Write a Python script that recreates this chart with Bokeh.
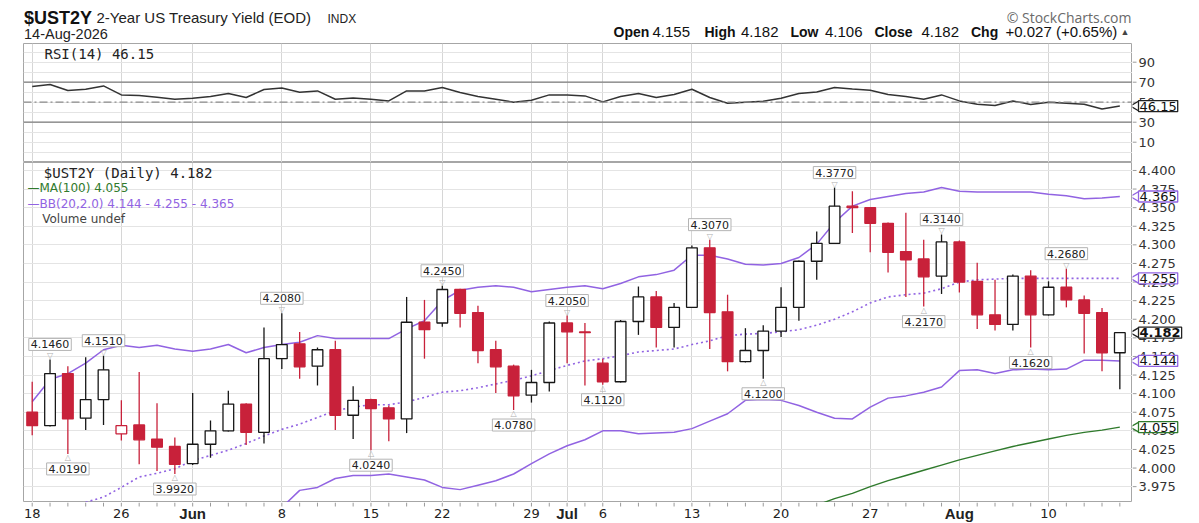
import math
import datetime as dt
from bokeh.plotting import figure
from bokeh.layouts import column, row
from bokeh.models import FixedTicker, SingleIntervalTicker, Span, Label, Range1d
from bokeh.core.properties import value
from bokeh.embed import file_html
from bokeh.resources import INLINE

NaN = float("nan")

# ---------------- data ----------------
dates = ["2026-05-18", "2026-05-19", "2026-05-20", "2026-05-21", "2026-05-22",
         "2026-05-26", "2026-05-27", "2026-05-28", "2026-05-29",
         "2026-06-01", "2026-06-02", "2026-06-03", "2026-06-04", "2026-06-05",
         "2026-06-08", "2026-06-09", "2026-06-10", "2026-06-11", "2026-06-12",
         "2026-06-15", "2026-06-16", "2026-06-17", "2026-06-18",
         "2026-06-22", "2026-06-23", "2026-06-24", "2026-06-25", "2026-06-26",
         "2026-06-29", "2026-06-30", "2026-07-01", "2026-07-02",
         "2026-07-06", "2026-07-07", "2026-07-08", "2026-07-09", "2026-07-10",
         "2026-07-13", "2026-07-14", "2026-07-15", "2026-07-16", "2026-07-17",
         "2026-07-20", "2026-07-21", "2026-07-22", "2026-07-23", "2026-07-24",
         "2026-07-27", "2026-07-28", "2026-07-29", "2026-07-30", "2026-07-31",
         "2026-08-03", "2026-08-04", "2026-08-05", "2026-08-06", "2026-08-07",
         "2026-08-10", "2026-08-11", "2026-08-12", "2026-08-13", "2026-08-14"]

opens = [4.075, 4.057, 4.127, 4.067, 4.092, 4.046, 4.058, 4.039, 4.029, 4.006,
         4.032, 4.050, 4.086, 4.048, 4.147, 4.167, 4.137, 4.159, 4.071, 4.092,
         4.081, 4.066, 4.196, 4.195, 4.240, 4.209, 4.159, 4.137, 4.098, 4.115,
         4.195, 4.183, 4.141, 4.116, 4.197, 4.230, 4.189, 4.216, 4.296, 4.210,
         4.143, 4.158, 4.184, 4.216, 4.278, 4.302, 4.352, 4.350, 4.329, 4.291,
         4.281, 4.258, 4.304, 4.251, 4.206, 4.193, 4.258, 4.206, 4.243, 4.226,
         4.209, 4.155]
highs = [4.116, 4.146, 4.137, 4.149, 4.151, 4.091, 4.129, 4.087, 4.041, 4.101,
         4.064, 4.104, 4.087, 4.189, 4.208, 4.183, 4.162, 4.171, 4.110, 4.093,
         4.084, 4.230, 4.226, 4.245, 4.241, 4.218, 4.171, 4.139, 4.132, 4.197,
         4.205, 4.195, 4.147, 4.199, 4.244, 4.238, 4.222, 4.299, 4.307, 4.233,
         4.188, 4.192, 4.243, 4.279, 4.318, 4.377, 4.372, 4.351, 4.330, 4.343,
         4.307, 4.314, 4.306, 4.276, 4.253, 4.260, 4.266, 4.251, 4.268, 4.232,
         4.215, 4.182]
lows = [4.044, 4.056, 4.019, 4.051, 4.058, 4.037, 4.005, 3.996, 3.992, 4.004,
        4.014, 4.049, 4.031, 4.033, 4.133, 4.120, 4.111, 4.051, 4.039, 4.024,
        4.036, 4.047, 4.147, 4.190, 4.189, 4.141, 4.101, 4.078, 4.088, 4.103,
        4.141, 4.111, 4.112, 4.115, 4.179, 4.162, 4.162, 4.215, 4.160, 4.130,
        4.142, 4.120, 4.176, 4.198, 4.253, 4.301, 4.316, 4.290, 4.263, 4.230,
        4.217, 4.234, 4.236, 4.187, 4.185, 4.185, 4.162, 4.205, 4.216, 4.154,
        4.130, 4.106]
closes = [4.057, 4.127, 4.066, 4.092, 4.132, 4.057, 4.038, 4.028, 4.005, 4.032,
          4.050, 4.086, 4.048, 4.147, 4.166, 4.136, 4.159, 4.071, 4.091, 4.080,
          4.066, 4.196, 4.186, 4.240, 4.208, 4.158, 4.136, 4.097, 4.115, 4.195,
          4.183, 4.182, 4.116, 4.197, 4.230, 4.189, 4.216, 4.296, 4.209, 4.143,
          4.158, 4.184, 4.216, 4.278, 4.302, 4.352, 4.350, 4.329, 4.290, 4.280,
          4.257, 4.304, 4.250, 4.206, 4.193, 4.258, 4.206, 4.243, 4.226, 4.208,
          4.155, 4.182]
prior_close = 4.085

bb_upper = [4.089, 4.119, 4.127, 4.141, 4.159, 4.165, 4.162, 4.165, 4.160, 4.157,
            4.160, 4.166, 4.155, 4.162, 4.166, 4.169, 4.178, 4.174, 4.174, 4.174,
            4.174, 4.187, 4.198, 4.225, 4.239, 4.243, 4.245, 4.243, 4.237, 4.240,
            4.243, 4.245, 4.241, 4.248, 4.257, 4.260, 4.266, 4.286, 4.286, 4.281,
            4.274, 4.273, 4.275, 4.283, 4.301, 4.330, 4.352, 4.361, 4.365, 4.369,
            4.371, 4.377, 4.372, 4.371, 4.371, 4.371, 4.371, 4.368, 4.366, 4.362,
            4.363, 4.365]
bb_mid = [NaN, NaN, NaN, 3.954, 3.961, 3.974, 3.988, 3.993, 3.999, 4.010,
          4.017, 4.024, 4.033, 4.043, 4.052, 4.059, 4.068, 4.077, 4.082, 4.085,
          4.085, 4.089, 4.095, 4.102, 4.104, 4.108, 4.113, 4.118, 4.124, 4.131,
          4.138, 4.144, 4.147, 4.151, 4.156, 4.158, 4.160, 4.166, 4.171, 4.178,
          4.180, 4.181, 4.183, 4.186, 4.192, 4.200, 4.210, 4.222, 4.230, 4.233,
          4.235, 4.241, 4.250, 4.253, 4.254, 4.255, 4.255, 4.255, 4.255, 4.255,
          4.255, 4.255]
bb_lower = [NaN, NaN, NaN, NaN, NaN, NaN, NaN, NaN, NaN, NaN,
            NaN, NaN, 3.912, 3.928, 3.947, 3.970, 3.974, 3.986, 3.990, 3.990,
            3.992, 3.988, 3.984, 3.974, 3.971, 3.977, 3.983, 3.992, 4.006, 4.019,
            4.030, 4.038, 4.050, 4.050, 4.046, 4.047, 4.048, 4.053, 4.063, 4.073,
            4.091, 4.092, 4.091, 4.084, 4.075, 4.067, 4.066, 4.082, 4.094, 4.097,
            4.102, 4.109, 4.131, 4.132, 4.127, 4.132, 4.133, 4.132, 4.133, 4.145,
            4.145, 4.144]
ma100 = [NaN] * 44 + [3.950, 3.959, 3.966, 3.975, 3.983, 3.990, 3.997, 4.004,
                      4.011, 4.017, 4.023, 4.029, 4.034, 4.039, 4.044, 4.048,
                      4.051, 4.055]
rsi14 = [65.8, 67.7, 61.7, 63.0, 66.3, 57.3, 56.7, 55.0, 53.0, 54.0,
         55.7, 58.7, 54.7, 62.7, 64.3, 60.0, 61.3, 53.0, 54.3, 53.0,
         51.3, 61.3, 61.3, 64.7, 59.7, 55.7, 53.0, 50.0, 52.0, 57.3,
         57.3, 56.3, 50.3, 55.7, 58.7, 54.7, 57.7, 63.0, 54.7, 49.0,
         50.0, 51.0, 54.0, 58.7, 60.3, 64.7, 63.3, 62.0, 57.7, 55.7,
         53.0, 57.3, 51.3, 48.0, 46.7, 51.3, 47.7, 50.0, 49.0, 48.0,
         43.3, 46.15]

swing_high_idx = [1, 4, 14, 23, 30, 38, 45, 51, 58]
swing_low_idx = [2, 8, 19, 27, 32, 41, 50, 56]
rsi_tick_labels = ["10", "30", "50", "70", "90"]
price_tick_labels = ["3.975", "4.000", "4.025", "4.050", "4.075", "4.100", "4.125",
                     "4.150", "4.175", "4.200", "4.225", "4.250", "4.275", "4.300",
                     "4.325", "4.350", "4.375", "4.400"]

# ---------------- styling / geometry ----------------
RED = "#c8213a"
BLACK = "#161616"
PURPLE = "#9163e2"
GREEN = "#2f7a2c"
GRID = "#e4e4e4"
VGRID = "#d6d6d6"
FRAME = "#a6a6a6"
TICK = "#9a9a9a"
SANS = "Liberation Sans"
DEJ = "DejaVu Sans"
MONO = "DejaVu Sans Mono"

TOTAL_W = 1199
FL, FW = 23, 1109
RW = TOTAL_W - FL - FW
HEAD_H, RSI_H, PH, STRIP_H = 43, 119, 340, 20
TK = 4

n = len(dates)
idx = list(range(n))
prev = [prior_close] + closes[:-1]
ccol = [RED if c < p else BLACK for c, p in zip(closes, prev)]
cfill = ["white" if c > o else cc for o, c, cc in zip(opens, closes, ccol)]
btop = [max(o, c) for o, c in zip(opens, closes)]
bbot = [min(o, c) for o, c in zip(opens, closes)]

dd = [dt.date.fromisoformat(s) for s in dates]
major, day_ticks, day_text, mon_ticks, mon_text = [], [], [], [], []
for i, d in enumerate(dd):
    new_month = i > 0 and d.month != dd[i - 1].month
    new_week = i == 0 or d.isocalendar()[1] != dd[i - 1].isocalendar()[1]
    if new_month:
        major.append(i); mon_ticks.append(i); mon_text.append(d.strftime("%b"))
    elif new_week:
        major.append(i); day_ticks.append(i); day_text.append(str(d.day))

x_rng = Range1d(-0.488, 61.71)
rsi_rng = Range1d(-10.3, 108.7)
price_rng = Range1d(3.9537, 4.4107)


def mkfig(width, height, xr, yr, left=0, right=0):
    f = figure(width=width, height=height, x_range=xr, y_range=yr, title=None,
               output_backend="svg", toolbar_location=None,
               x_axis_location=None, y_axis_location=None,
               min_border_left=left, min_border_right=right,
               min_border_top=0, min_border_bottom=0)
    f.background_fill_color = "white"
    f.border_fill_color = "white"
    return f


def bare(fig):
    fig.outline_line_color = None
    fig.grid.visible = False


def flab(fig, x, y, text, font=SANS, size="14px", style="normal", color="#111111",
         align="left", baseline="middle", units="data"):
    fig.add_layout(Label(x=x, y=y, x_units=units, y_units=units, text=text,
                         text_font=font, text_font_size=size, text_font_style=style,
                         text_color=color, text_align=align, text_baseline=baseline))


# ---------------- header (x = page pixels, y measured up from header bottom) ----
header = mkfig(TOTAL_W, HEAD_H, Range1d(FL, FL + FW), Range1d(0, HEAD_H), FL, RW)
bare(header)
flab(header, 23.5, 26, "$UST2Y", size="18px", style="bold")
flab(header, 96, 25.7, "2-Year US Treasury Yield (EOD)", size="15px", color="#222222")
flab(header, 327, 24.8, "INDX", size="12px", color="#222222")
flab(header, 23.5, 9.4, dd[-1].strftime("%d-%b-%Y"), size="14.5px", color="#222222")
flab(header, 1131, 26.5, "\u00a9 StockCharts.com", font="Open Sans", size="14px",
     color="#6a6a6a", align="right")
chg = closes[-1] - closes[-2]
pct = chg / closes[-2] * 100
ohlc_parts = [(613, "Open", "bold"), (652, f"{opens[-1]:.3f}", "normal"),
              (704, "High", "bold"), (740.5, f"{highs[-1]:.3f}", "normal"),
              (790, "Low", "bold"), (824.5, f"{lows[-1]:.3f}", "normal"),
              (874, "Close", "bold"), (921, f"{closes[-1]:.3f}", "normal"),
              (970.5, "Chg", "bold"), (1005, f"{chg:+.3f} ({pct:+.2f}%)", "normal")]
for x, t, s in ohlc_parts:
    flab(header, x, 12, t, size="14px" if s == "bold" else "15px", style=s)
flab(header, 1120, 12, "\u25b2" if chg >= 0 else "\u25bc", size="9px", color="#444444")

# ---------------- RSI panel ----------------
rsi = mkfig(FL + FW, RSI_H, x_rng, rsi_rng, FL, 0)
rsi.outline_line_color = FRAME
rsi.xgrid.ticker = FixedTicker(ticks=major)
rsi.xgrid.grid_line_color = VGRID
rsi.ygrid.ticker = SingleIntervalTicker(interval=10)
rsi.ygrid.grid_line_color = GRID
for lvl in (70, 30):
    rsi.add_layout(Span(location=lvl, dimension="width", line_color="#7d7d7d", line_width=1.3))
rsi.add_layout(Span(location=50, dimension="width", line_color="#8a8a8a",
                    line_width=1.2, line_dash="8 3 2 3"))
rsi.line(idx, rsi14, line_color="#333333", line_width=1.5)
flab(rsi, 21, RSI_H - 10.3, f"RSI(14) {rsi14[-1]:.2f}", font=MONO, size="14px",
     color="#222222", units="screen")

rsi_r = mkfig(RW, RSI_H, Range1d(0, RW), rsi_rng)
bare(rsi_r)
rsi_vals = [float(t) for t in rsi_tick_labels]
rsi_r.segment(x0=[0] * len(rsi_vals), y0=rsi_vals, x1=[TK] * len(rsi_vals), y1=rsi_vals,
              line_color=TICK, line_width=1)
rsi_r.text(x=[6] * len(rsi_vals), y=rsi_vals, text=rsi_tick_labels, text_font=value(DEJ),
           text_font_size="13px", text_color="#333333", text_baseline="middle",
           text_align="left")


def tag(fig, v, txt, color, bold=False):
    fig.scatter(x=[3.5], y=[v], marker="triangle", size=10, angle=math.pi / 2,
                fill_color="white", line_color=color, line_width=1.3)
    fig.add_layout(Label(x=6, y=v, x_units="data", y_units="data", text=txt,
                         text_font=DEJ, text_font_size="13px",
                         text_font_style="bold" if bold else "normal",
                         text_color="#111111", text_baseline="middle", text_align="left",
                         border_line_color=color, border_line_width=1.3,
                         background_fill_color="white", padding=1))


tag(rsi_r, rsi14[-1], f"{rsi14[-1]:.2f}", "#222222")

# ---------------- price panel ----------------
price = mkfig(FL + FW, PH, x_rng, price_rng, FL, 0)
price.outline_line_color = FRAME
price.xgrid.ticker = FixedTicker(ticks=major)
price.xgrid.grid_line_color = VGRID
price.ygrid.ticker = SingleIntervalTicker(interval=0.025)
price.ygrid.grid_line_color = GRID

price.line(idx, ma100, line_color=GREEN, line_width=1.4)
price.line(idx, bb_upper, line_color=PURPLE, line_width=1.5)
price.line(idx, bb_lower, line_color=PURPLE, line_width=1.5)
price.line(idx, bb_mid, line_color=PURPLE, line_width=1.6, line_dash="2 3")

price.segment(x0=idx, y0=lows, x1=idx, y1=highs, line_color=ccol, line_width=1.3)
price.vbar(x=idx, width=0.6, top=btop, bottom=bbot, fill_color=cfill,
           line_color=ccol, line_width=1.3)

for i in swing_high_idx:
    price.add_layout(Label(x=i, y=highs[i], text="\u25bd", text_font=DEJ,
                           text_font_size="8px", text_color="#b0b0b0",
                           text_align="center", text_baseline="bottom", y_offset=-1))
    price.add_layout(Label(x=i, y=highs[i], text=f"{highs[i]:.4f}", y_offset=9,
                           text_font=DEJ, text_font_size="11px", text_color="#222222",
                           text_align="center", text_baseline="bottom",
                           border_line_color="#b4b4b4", background_fill_color="white",
                           padding=2))
for i in swing_low_idx:
    price.add_layout(Label(x=i, y=lows[i], text="\u25b3", text_font=DEJ,
                           text_font_size="8px", text_color="#b0b0b0",
                           text_align="center", text_baseline="top", y_offset=1))
    price.add_layout(Label(x=i, y=lows[i], text=f"{lows[i]:.4f}", y_offset=-9,
                           text_font=DEJ, text_font_size="11px", text_color="#222222",
                           text_align="center", text_baseline="top",
                           border_line_color="#b4b4b4", background_fill_color="white",
                           padding=2))

flab(price, 20.3, PH - 10.3, f"$UST2Y (Daily) {closes[-1]:.3f}", font=MONO, size="14px",
     color="#222222", units="screen")
flab(price, 4, PH - 25.5, f"\u2014MA(100) {ma100[-1]:.3f}", font=DEJ, size="12px",
     color=GREEN, units="screen")
flab(price, 4, PH - 41.3,
     f"\u2014BB(20,2.0) {bb_lower[-1]:.3f} - {bb_mid[-1]:.3f} - {bb_upper[-1]:.3f}",
     font=DEJ, size="12px", color=PURPLE, units="screen")
flab(price, 18.7, PH - 56.3, "Volume undef", font=DEJ, size="12px", color="#444444",
     units="screen")

price_r = mkfig(RW, PH, Range1d(0, RW), price_rng)
bare(price_r)
pvals = [float(t) for t in price_tick_labels]
price_r.segment(x0=[0] * len(pvals), y0=pvals, x1=[TK] * len(pvals), y1=pvals,
                line_color=TICK, line_width=1)
price_r.text(x=[6] * len(pvals), y=pvals, text=price_tick_labels, text_font=value(DEJ),
             text_font_size="13px", text_color="#333333", text_baseline="middle",
             text_align="left")
tag(price_r, bb_upper[-1], f"{bb_upper[-1]:.3f}", PURPLE)
tag(price_r, bb_mid[-1], f"{bb_mid[-1]:.3f}", PURPLE)
tag(price_r, closes[-1], f"{closes[-1]:.3f}", "#222222", bold=True)
tag(price_r, bb_lower[-1], f"{bb_lower[-1]:.3f}", PURPLE)
tag(price_r, ma100[-1], f"{ma100[-1]:.3f}", GREEN)

# ---------------- date axis under the price panel ----------------
strip = mkfig(TOTAL_W, STRIP_H, x_rng, Range1d(0, STRIP_H), FL, RW)
bare(strip)
strip.segment(x0=idx, y0=[STRIP_H] * n, x1=idx, y1=[STRIP_H - TK] * n,
              line_color=TICK, line_width=1)
strip.text(x=day_ticks, y=[9.5] * len(day_ticks), text=day_text, text_font=value(DEJ),
           text_font_size="13px", text_color="#222222", text_align="center",
           text_baseline="middle")
strip.text(x=mon_ticks, y=[9.5] * len(mon_ticks), text=mon_text, text_font=value(SANS),
           text_font_size="15px", text_font_style="bold", text_color="#222222",
           text_align="center", text_baseline="middle")

layout = column(header, row(rsi, rsi_r), row(price, price_r), strip)
open("out.html", "w").write(file_html(layout, INLINE))
